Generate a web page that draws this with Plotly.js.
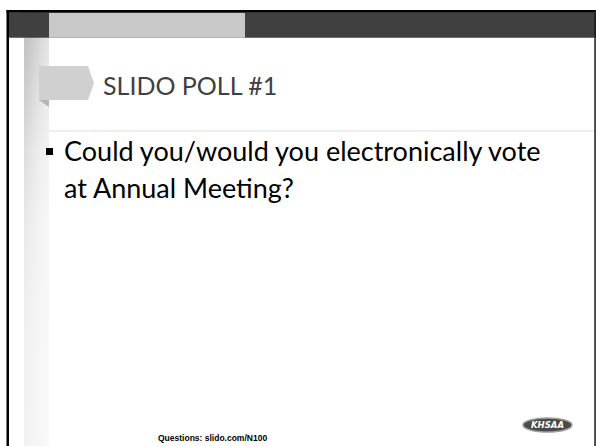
<!DOCTYPE html>
<html>
<head>
<meta charset="utf-8">
<script src="https://cdn.plot.ly/plotly-3.0.1.min.js"></script>
<style>html,body{margin:0;padding:0;background:#fff;}#chart{width:596px;height:446px;}</style>
</head>
<body>
<div id="chart"></div>
<script>
// Slide content
const slideTitle = "SLIDO POLL #1";
const bulletLines = ["Could you/would you electronically vote", "at Annual Meeting?"];
const footerText = "Questions: slido.com/N100";
const logoText = "KHSAA";

// Decorative left strip shading (gray levels)
const stripX = [24, 29, 34, 39, 44, 49];
const stripY = [38, 90, 150, 230, 330, 446];
const stripGray = [
  [195, 200, 208, 216, 224, 230],
  [205, 212, 220, 226, 232, 236],
  [222, 228, 234, 238, 241, 243],
  [234, 238, 241, 244, 246, 247],
  [240, 242, 244, 246, 247, 248],
  [242, 244, 246, 247, 248, 249]
];

const traces = [{
  type: 'heatmap',
  x: stripX,
  y: stripY,
  z: stripGray,
  zsmooth: 'best',
  zmin: 180, zmax: 255,
  colorscale: [[0, 'rgb(180,180,180)'], [1, 'rgb(255,255,255)']],
  showscale: false,
  hoverinfo: 'skip'
}];

const shapes = [
  // white cover left of strip
  {type: 'rect', x0: 9, x1: 24, y0: 37.7, y1: 446, fillcolor: '#fff', line: {width: 0}, layer: 'above'},
  {type: 'rect', x0: 49, x1: 60, y0: 37.7, y1: 446, fillcolor: '#fff', line: {width: 0}, layer: 'above'},
  // top dark bar
  {type: 'rect', x0: 9, x1: 596, y0: 12.7, y1: 37.7, fillcolor: '#404040', line: {width: 0}, layer: 'above'},
  // light block on bar
  {type: 'rect', x0: 49, x1: 245, y0: 12.7, y1: 37.7, fillcolor: '#c8c8c8', line: {width: 0}, layer: 'above'},
  // top black border
  {type: 'rect', x0: 6.5, x1: 596, y0: 10, y1: 12.7, fillcolor: '#000', line: {width: 0}, layer: 'above'},
  // left black border
  {type: 'rect', x0: 6.5, x1: 9, y0: 10, y1: 446, fillcolor: '#000', line: {width: 0}, layer: 'above'},
  // right border
  {type: 'rect', x0: 594.3, x1: 595.8, y0: 10, y1: 446, fillcolor: '#1a1a1a', line: {width: 0}, layer: 'above'},
  // separator line under title
  {type: 'line', x0: 49, x1: 594, y0: 131, y1: 131, line: {color: '#e8e8e8', width: 1.5}, layer: 'above'},
  // chevron fold shadow
  {type: 'path', path: 'M 39 100 L 49 100 L 49 107 Z', fillcolor: '#b4b4b4', line: {width: 0}, layer: 'above'},
  // title chevron
  {type: 'path', path: 'M 39 66 L 88 66 L 94 83 L 88 100 L 39 100 Z', fillcolor: '#d0d0d0', line: {width: 0}, layer: 'above'},
  // bullet square
  {type: 'rect', x0: 46, x1: 53, y0: 148, y1: 155, fillcolor: '#000', line: {width: 0}, layer: 'above'},
  // logo oval
  {type: 'circle', x0: 523, x1: 572, y0: 418, y1: 432, fillcolor: '#4a4a4a', line: {color: '#a0a0a0', width: 1.5}, layer: 'above'}
];

const annotations = [
  {x: 101, y: 84.5, xref: 'x', yref: 'y', text: slideTitle, showarrow: false, xanchor: 'left', yanchor: 'middle',
   font: {family: 'Lato', size: 25, color: '#404040'}},
  {x: 62, y: 150, xref: 'x', yref: 'y', text: bulletLines[0], showarrow: false, xanchor: 'left', yanchor: 'middle',
   font: {family: 'Lato', size: 27, color: '#000'}},
  {x: 62, y: 187, xref: 'x', yref: 'y', text: bulletLines[1], showarrow: false, xanchor: 'left', yanchor: 'middle',
   font: {family: 'Lato', size: 27, color: '#000'}},
  {x: 156, y: 438, xref: 'x', yref: 'y', text: '<b>' + footerText + '</b>', showarrow: false, xanchor: 'left', yanchor: 'middle',
   font: {family: 'Liberation Sans', size: 8.5, color: '#000'}},
  {x: 547.5, y: 425, xref: 'x', yref: 'y', text: '<b><i>' + logoText + '</i></b>', showarrow: false, xanchor: 'center', yanchor: 'middle',
   font: {family: 'DejaVu Sans', size: 8.5, color: '#fff'}}
];

const layout = {
  width: 596, height: 446,
  margin: {l: 0, r: 0, t: 0, b: 0, pad: 0},
  paper_bgcolor: '#fff', plot_bgcolor: '#fff',
  xaxis: {range: [0, 596], visible: false, fixedrange: true},
  yaxis: {range: [446, 0], visible: false, fixedrange: true},
  shapes: shapes,
  annotations: annotations,
  showlegend: false
};

Plotly.newPlot('chart', traces, layout, {staticPlot: true, displayModeBar: false});
</script>
</body>
</html>
